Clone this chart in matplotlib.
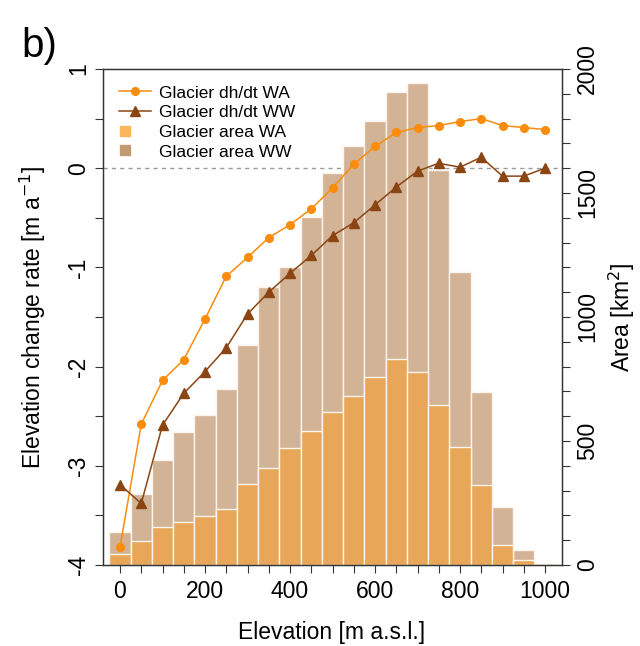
"""
Glacier elevation change rate and hypsometry, panel b).
"""

import matplotlib
matplotlib.use("Agg")
import matplotlib.pyplot as plt
from matplotlib.lines import Line2D
from matplotlib.legend_handler import HandlerBase
from matplotlib.ticker import MultipleLocator, FuncFormatter

plt.rcParams["font.family"] = ["Liberation Sans", "DejaVu Sans"]
plt.rcParams["axes.unicode_minus"] = False

# elevation bins (m a.s.l.)
elevation = [0, 50, 100, 150, 200, 250, 300, 350, 400, 450, 500,
             550, 600, 650, 700, 750, 800, 850, 900, 950, 1000]

# dh/dt (m a-1)
dhdt_wa = [-3.82, -2.58, -2.14, -1.93, -1.52, -1.09, -0.90, -0.70, -0.57, -0.41, -0.20,
           0.04, 0.22, 0.36, 0.41, 0.43, 0.47, 0.50, 0.43, 0.41, 0.39]
dhdt_ww = [-3.19, -3.38, -2.59, -2.27, -2.05, -1.81, -1.47, -1.25, -1.06, -0.88, -0.68,
           -0.55, -0.37, -0.19, -0.03, 0.05, 0.01, 0.11, -0.08, -0.08, 0.00]

# glacier area per bin (km2)
area_wa = [43, 98, 155, 175, 199, 226, 327, 390, 471, 539, 617,
           680, 760, 832, 780, 646, 477, 322, 81, 20, 4]
area_ww = [135, 287, 424, 536, 606, 710, 889, 1121, 1203, 1402, 1580,
           1690, 1790, 1906, 1942, 1593, 1180, 699, 232, 61, 6]

C_LINE_WA = "#fb8c0c"
C_LINE_WW = "#8b4513"
C_BAR_WA = "#e8a658"
C_BAR_WW = "#d2b396"
C_LEG_WA = "#fbb55c"
C_LEG_WW = "#bf9a72"

FS = 16.5


class _SquareHandler(HandlerBase):
    """Square legend symbol placed toward the left of the handle box."""

    def create_artists(self, legend, orig_handle, xdescent, ydescent,
                       width, height, fontsize, trans):
        m = Line2D([-xdescent + 0.19 * width], [-ydescent + height / 2.0],
                   marker="s", linestyle="none",
                   markersize=orig_handle.get_markersize(),
                   color=orig_handle.get_color(), transform=trans)
        return [m]


fig = plt.figure(figsize=(6.4, 6.46), dpi=100)
ax = fig.add_axes([103 / 640, 81 / 646, 459 / 640, 496 / 646])
ax2 = ax.twinx()
ax.set_zorder(ax2.get_zorder() + 1)
ax.patch.set_visible(False)

# zero line, drawn behind the bars
ax2.add_line(Line2D([0, 1], [0, 0], transform=ax.get_yaxis_transform(),
                    color="#9a9a9a", linestyle=(0, (3, 3)), linewidth=1.0, zorder=0))

ax2.bar(elevation, area_ww, width=50, color=C_BAR_WW, edgecolor="#fbf4ec",
        linewidth=1.0, zorder=1)
ax2.bar(elevation, area_wa, width=50, color=C_BAR_WA, edgecolor="#fbf4ec",
        linewidth=1.0, zorder=2)

ax.plot(elevation, dhdt_wa, color=C_LINE_WA, linewidth=1.1, marker="o",
        markersize=5.5, zorder=3)
ax.plot(elevation, dhdt_ww, color=C_LINE_WW, linewidth=1.1, marker="^",
        markersize=7, zorder=3)

ax.set_xlim(-40, 1040)
ax.set_ylim(-4, 1)
ax2.set_ylim(0, 2000)

ax.xaxis.set_major_locator(MultipleLocator(200))
ax.xaxis.set_minor_locator(MultipleLocator(50))
ax.yaxis.set_major_locator(MultipleLocator(1))
ax.yaxis.set_minor_locator(MultipleLocator(0.5))
ax.yaxis.set_major_formatter(FuncFormatter(lambda v, p: f"{v:.0f}"))
ax2.yaxis.set_major_locator(MultipleLocator(500))
ax2.yaxis.set_minor_locator(MultipleLocator(100))

for a in (ax, ax2):
    for s in a.spines.values():
        s.set_linewidth(0.9)
        s.set_color("#333333")
    a.tick_params(which="both", direction="out", length=6, width=0.8,
                  color="#333333", labelsize=FS)

ax.tick_params(axis="x", pad=5)
ax.tick_params(axis="y", pad=3, labelrotation=90)
ax2.tick_params(axis="y", pad=4, labelrotation=90)
for t in ax.get_yticklabels():
    t.set_va("center")
for t in ax2.get_yticklabels():
    t.set_va("center")

ax.set_xlabel("Elevation [m a.s.l.]", fontsize=FS)
ax.set_ylabel("Elevation change rate [m a$^{-1}$]", fontsize=FS)
ax2.set_ylabel("Area [km$^2$]", fontsize=FS)
ax.xaxis.set_label_coords(0.499, -0.113)
ax.yaxis.set_label_coords(-0.12, 0.5)
ax2.yaxis.set_label_coords(1.098, 0.5)

handles = [
    Line2D([], [], color=C_LINE_WA, linewidth=1.1, marker="o", markersize=5.5),
    Line2D([], [], color=C_LINE_WW, linewidth=1.1, marker="^", markersize=7),
    Line2D([], [], color=C_LEG_WA, marker="s", markersize=7.5, linestyle="none"),
    Line2D([], [], color=C_LEG_WW, marker="s", markersize=7.5, linestyle="none"),
]
labels = ["Glacier dh/dt WA", "Glacier dh/dt WW", "Glacier area WA", "Glacier area WW"]
sq = _SquareHandler()
ax.legend(handles, labels, loc="upper left", bbox_to_anchor=(0.035, 0.967),
          frameon=False, fontsize=12.5, handlelength=1.85, handletextpad=0.45,
          labelspacing=0.26, borderaxespad=0, borderpad=0,
          handler_map={handles[2]: sq, handles[3]: sq})

fig.text(0.034, 0.958, "b)", fontsize=29, ha="left", va="top")

fig.savefig("out.png", dpi=100)
